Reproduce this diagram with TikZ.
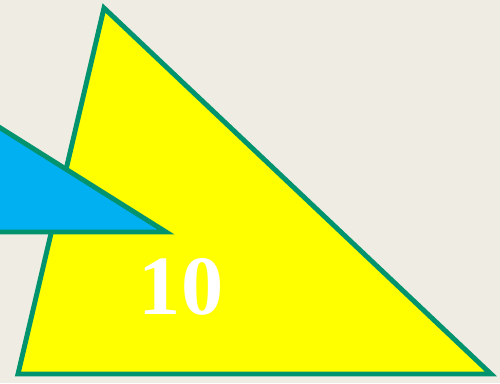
\documentclass[tikz,border=0pt]{standalone}
\usepackage{fontspec}
\setmainfont{Liberation Serif}
\definecolor{paper}{HTML}{EFECE3}
\definecolor{rim}{HTML}{00936E}
\definecolor{sky}{HTML}{00B0F0}
\definecolor{lemon}{HTML}{FFFF00}
\tikzset{
  tri/.style={draw=rim, line width=2.8pt, line join=miter},
  numtext/.style={text=white, font=\bfseries\fontsize{48}{48}\selectfont, inner sep=0pt}
}

\begin{document}
\begin{tikzpicture}[x=0.02cm, y=-0.02cm]
    \useasboundingbox (0,0) rectangle (500,383);
    \clip (0,0) rectangle (500,383);
    \fill[paper] (0,0) rectangle (500,383);
    \coordinate (top) at (104,8);
    \coordinate (bl) at (18,374);
    \coordinate (br) at (491,374);
    \draw[tri, fill=lemon] (top) -- (bl) -- (br) -- cycle;
    \coordinate (tip) at (166,232);
    \coordinate (far) at (-60,90);
    \coordinate (low) at (-60,232);
    \draw[tri, fill=sky] (far) -- (tip) -- (low) -- cycle;
    \node[numtext] (num) at (181,287) {10};
  \end{tikzpicture}
\end{document}
